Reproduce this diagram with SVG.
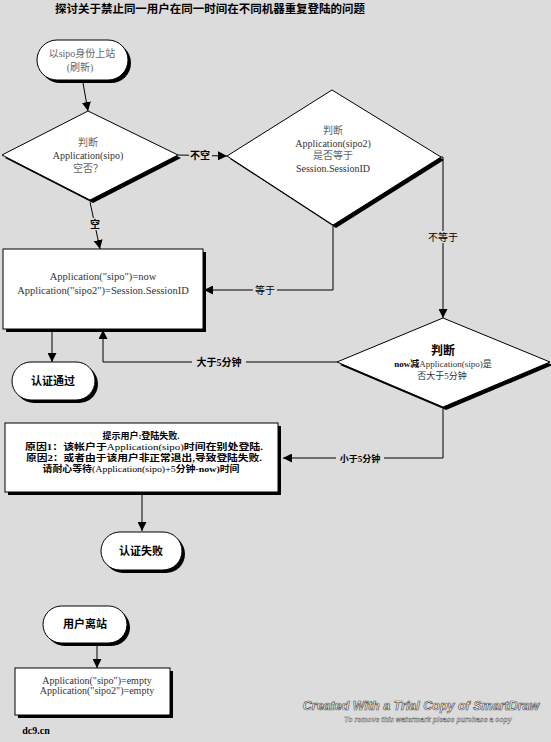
<svg xmlns="http://www.w3.org/2000/svg" width="551" height="742" viewBox="0 0 551 742">
<defs>
<marker id="ah" viewBox="0 0 10 10" refX="10" refY="5" markerWidth="9" markerHeight="9" markerUnits="userSpaceOnUse" orient="auto"><path d="M0,0 L10,5 L0,10 z" fill="#000"/></marker>
<style>
.bg{fill:#dcdcdc}
.sh{fill:#000}
.nd{fill:#fff;stroke:#000;stroke-width:1}
.t{font-family:"Liberation Serif","Noto Sans CJK SC",serif;font-size:10px;text-anchor:middle;fill:#333}
.g{fill:#666}
.b{font-weight:bold;fill:#000}
.c{fill:none;stroke:#000;stroke-width:1}
.lb{font-family:"Liberation Serif","Noto Sans CJK SC",serif;font-size:10px;text-anchor:middle;fill:#000;font-weight:bold}
.wm{font-family:"Liberation Sans",sans-serif;font-style:italic;font-weight:bold;fill:#fff;stroke:#555;stroke-width:0.7;text-anchor:middle}
</style>
</defs>
<rect class="bg" x="0" y="0" width="551" height="742"/>
<text x="210" y="13" class="t b" style="font-size:11.5px" textLength="310" lengthAdjust="spacingAndGlyphs">探讨关于禁止同一用户在同一时间在不同机器重复登陆的问题</text>

<g id="connectors">
<line class="c" x1="83" y1="83" x2="88" y2="111" marker-end="url(#ah)"/>
<line class="c" x1="178" y1="155" x2="227" y2="156" marker-end="url(#ah)"/>
<line class="c" x1="90" y1="202" x2="100" y2="249" marker-end="url(#ah)"/>
<polyline class="c" points="333,226 333,290 204,290" marker-end="url(#ah)"/>
<polyline class="c" points="440,157 443,157 443,318" marker-end="url(#ah)"/>
<polyline class="c" points="337,362 103,362 103,330" marker-end="url(#ah)"/>
<polyline class="c" points="443,409 443,458 283,458" marker-end="url(#ah)"/>
<line class="c" x1="52" y1="332" x2="52" y2="362" marker-end="url(#ah)"/>
<line class="c" x1="142" y1="495" x2="142" y2="531" marker-end="url(#ah)"/>
<line class="c" x1="97" y1="646" x2="97" y2="668" marker-end="url(#ah)"/>
<rect class="bg" x="189" y="149" width="23" height="12"/>
<text class="lb" x="200" y="159">不空</text>
<rect class="bg" x="89" y="218" width="13" height="12"/>
<text class="lb" x="95" y="228">空</text>
<rect class="bg" x="253" y="284" width="24" height="12"/>
<text class="lb" x="265" y="294" style="font-weight:normal">等于</text>
<rect class="bg" x="425" y="231" width="36" height="12"/>
<text class="lb" x="443" y="241" style="font-weight:normal">不等于</text>
<rect class="bg" x="192" y="356" width="54" height="12"/>
<text class="lb" x="219" y="366">大于5分钟</text>
<rect class="bg" x="336" y="452" width="48" height="12"/>
<text class="lb" x="360" y="462" style="font-size:9px">小于5分钟</text>
</g>

<g id="start">
<rect class="sh" x="40" y="43" width="91" height="40" rx="20"/>
<rect class="nd" x="37" y="40" width="91" height="40" rx="20"/>
<text class="t g" x="82" y="57">以sipo身份上站</text>
<text class="t g" x="80" y="71">(刷新)</text>
</g>

<g id="d1">
<polygon class="sh" points="91,114 181,158 93,203 5,158"/>
<polygon class="nd" points="88,111 178,155 90,200 2,155"/>
<text class="t g" x="88" y="146">判断</text>
<text class="t" x="88" y="159">Application(sipo)</text>
<text class="t g" x="88" y="172">空否？</text>
</g>

<g id="d2">
<polygon class="sh" points="335,93 444,160 336,228 230,159"/>
<polygon class="nd" points="332,90 441,157 333,225 227,156"/>
<text class="t g" x="333" y="134">判断</text>
<text class="t" x="333" y="147">Application(sipo2)</text>
<text class="t g" x="333" y="159">是否等于</text>
<text class="t" x="333" y="172">Session.SessionID</text>
</g>

<g id="box1">
<rect class="sh" x="6" y="252" width="200" height="80"/>
<rect class="nd" x="3" y="249" width="200" height="80"/>
<text class="t" x="103" y="280" style="font-size:10.5px">Application("sipo")=now</text>
<text class="t" x="103" y="294" style="font-size:10.5px">Application("sipo2")=Session.SessionID</text>
</g>

<g id="d3">
<polygon class="sh" points="446,321 553,365 446,410 340,365"/>
<polygon class="nd" points="443,318 550,362 443,407 337,362"/>
<text class="t b" x="443" y="355" style="font-size:12px">判断</text>
<text class="t" x="443" y="367" style="font-size:9px"><tspan font-weight="bold" fill="#000">now减</tspan>Application(sipo)是</text>
<text class="t" x="442" y="379" style="font-size:9px">否大于5分钟</text>
</g>

<g id="pass">
<rect class="sh" x="15" y="365" width="83" height="38" rx="19"/>
<rect class="nd" x="12" y="362" width="83" height="38" rx="19"/>
<text class="t b" x="53" y="385" style="font-size:11px">认证通过</text>
</g>

<g id="box2">
<rect class="sh" x="8" y="426" width="273" height="69"/>
<rect class="nd" x="5" y="423" width="273" height="69"/>
<text class="t b" x="141" y="439" style="font-size:9px">提示用户:登陆失败.</text>
<text class="t b" x="144" y="450" style="font-size:9px" textLength="238" lengthAdjust="spacingAndGlyphs">原因1：该帐户于<tspan font-weight="normal">Application(sipo)</tspan>时间在别处登陆.</text>
<text class="t b" x="144" y="461" style="font-size:9px" textLength="236" lengthAdjust="spacingAndGlyphs">原因2：或者由于该用户非正常退出,导致登陆失败.</text>
<text class="t b" x="141" y="472" style="font-size:9px" textLength="197" lengthAdjust="spacingAndGlyphs">请耐心等待<tspan font-weight="normal">(Application(sipo)+5</tspan>分钟-now)时间</text>
</g>

<g id="fail">
<rect class="sh" x="104" y="535" width="81" height="38" rx="19"/>
<rect class="nd" x="101" y="532" width="81" height="38" rx="19"/>
<text class="t b" x="141" y="555" style="font-size:11px">认证失败</text>
</g>

<g id="leave">
<rect class="sh" x="46" y="609" width="84" height="37" rx="18.5"/>
<rect class="nd" x="43" y="606" width="84" height="37" rx="18.5"/>
<text class="t b" x="85" y="628" style="font-size:11px">用户离站</text>
</g>

<g id="box3">
<rect class="sh" x="18" y="671" width="155" height="47"/>
<rect class="nd" x="15" y="668" width="155" height="47"/>
<text class="t" x="97" y="684">Application("sipo")=empty</text>
<text class="t" x="97" y="694">Application("sipo2")=empty</text>
</g>

<text class="t b" x="36" y="734" style="font-size:10px">dc9.cn</text>
<text class="wm" x="421" y="710" style="font-size:12.5px">Created With a Trial Copy of SmartDraw</text>
<text class="wm" x="428" y="722" style="font-size:7px;stroke-width:0.4">To remove this watermark please purchase a copy</text>
</svg>
